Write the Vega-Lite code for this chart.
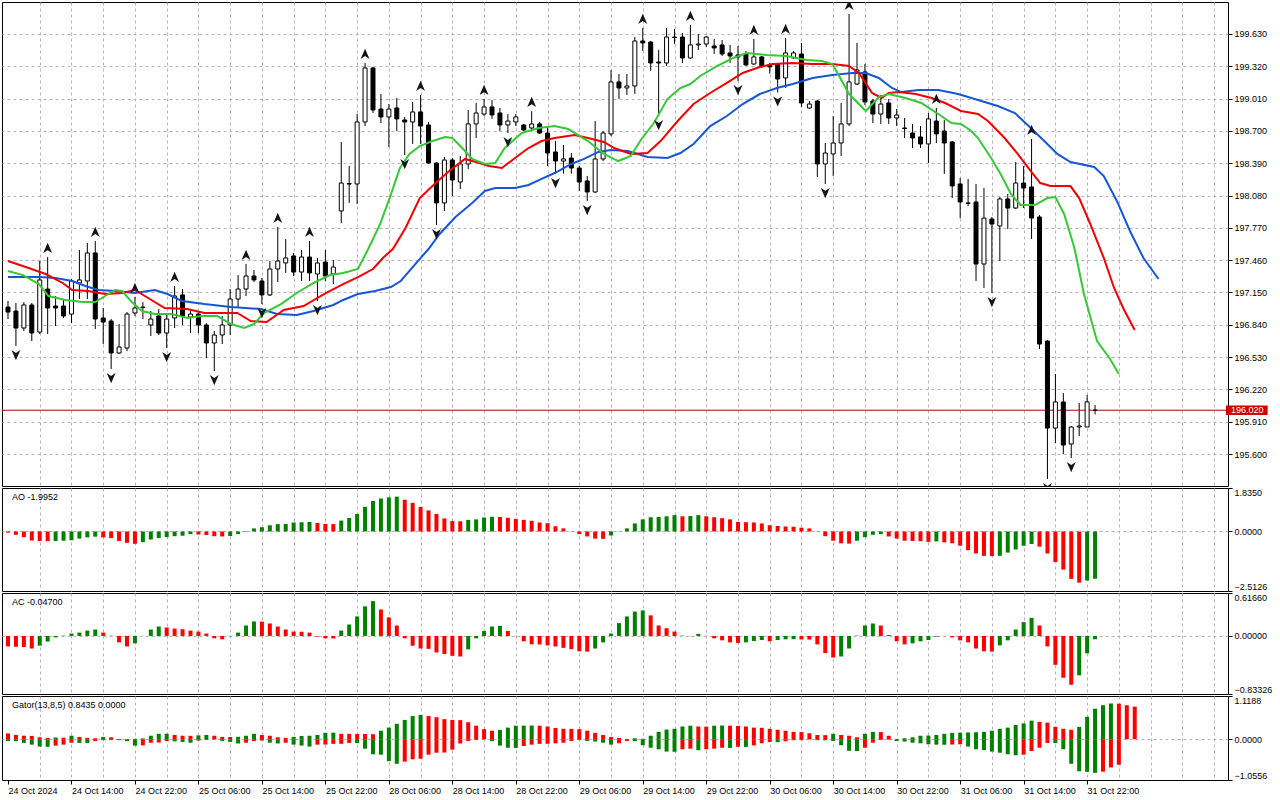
{
  "$schema": "https://vega.github.io/schema/vega-lite/v6.json",
  "background": "white",
  "padding": {"left": 1, "top": 1, "right": 0, "bottom": 0},
  "bounds": "flush",
  "spacing": 2,
  "config": {
    "view": {"stroke": "black", "strokeWidth": 1},
    "font": "Liberation Sans",
    "axis": {"labelFont": "Liberation Sans", "labelFontSize": 9, "labelColor": "black", "tickColor": "black", "tickSize": 4, "gridColor": "#bcaebf", "gridDash": [3, 3], "domain": false},
    "text": {"font": "Liberation Sans", "fontSize": 9}
  },
  "datasets": {
    "candles": [
      {"i":0,"o":197.010,"h":197.068,"l":196.895,"c":196.962},
      {"i":1,"o":196.972,"h":197.049,"l":196.636,"c":196.809},
      {"i":2,"o":196.809,"h":197.058,"l":196.780,"c":197.030},
      {"i":3,"o":197.030,"h":197.049,"l":196.684,"c":196.761},
      {"i":4,"o":196.770,"h":197.452,"l":196.751,"c":197.270},
      {"i":5,"o":197.183,"h":197.490,"l":196.751,"c":197.001},
      {"i":6,"o":197.020,"h":197.116,"l":196.828,"c":197.001},
      {"i":7,"o":197.020,"h":197.087,"l":196.905,"c":196.924},
      {"i":8,"o":196.943,"h":197.279,"l":196.857,"c":197.260},
      {"i":9,"o":197.241,"h":197.557,"l":197.087,"c":197.270},
      {"i":10,"o":197.260,"h":197.625,"l":197.087,"c":197.529},
      {"i":11,"o":197.529,"h":197.644,"l":196.799,"c":196.895},
      {"i":12,"o":196.905,"h":197.001,"l":196.655,"c":196.866},
      {"i":13,"o":196.876,"h":196.895,"l":196.415,"c":196.569},
      {"i":14,"o":196.569,"h":196.847,"l":196.560,"c":196.627},
      {"i":15,"o":196.617,"h":196.962,"l":196.588,"c":196.943},
      {"i":16,"o":196.953,"h":197.107,"l":196.924,"c":197.001},
      {"i":17,"o":197.010,"h":197.058,"l":196.895,"c":197.005},
      {"i":18,"o":196.838,"h":196.972,"l":196.732,"c":196.895},
      {"i":19,"o":196.924,"h":196.991,"l":196.742,"c":196.761},
      {"i":20,"o":196.761,"h":196.953,"l":196.617,"c":196.895},
      {"i":21,"o":196.905,"h":197.212,"l":196.809,"c":197.116},
      {"i":22,"o":197.126,"h":197.183,"l":196.838,"c":196.924},
      {"i":23,"o":196.914,"h":196.991,"l":196.761,"c":196.943},
      {"i":24,"o":196.943,"h":196.962,"l":196.761,"c":196.838},
      {"i":25,"o":196.838,"h":196.857,"l":196.521,"c":196.665},
      {"i":26,"o":196.665,"h":196.780,"l":196.396,"c":196.742},
      {"i":27,"o":196.742,"h":196.924,"l":196.655,"c":196.838},
      {"i":28,"o":196.838,"h":197.183,"l":196.742,"c":197.087},
      {"i":29,"o":197.087,"h":197.318,"l":197.001,"c":197.183},
      {"i":30,"o":197.183,"h":197.423,"l":197.116,"c":197.308},
      {"i":31,"o":197.308,"h":197.365,"l":197.250,"c":197.270},
      {"i":32,"o":197.260,"h":197.289,"l":197.039,"c":197.126},
      {"i":33,"o":197.126,"h":197.452,"l":197.116,"c":197.375},
      {"i":34,"o":197.375,"h":197.778,"l":197.250,"c":197.452},
      {"i":35,"o":197.433,"h":197.663,"l":197.337,"c":197.481},
      {"i":36,"o":197.500,"h":197.529,"l":197.308,"c":197.346},
      {"i":37,"o":197.346,"h":197.557,"l":197.260,"c":197.490},
      {"i":38,"o":197.490,"h":197.644,"l":197.260,"c":197.337},
      {"i":39,"o":197.327,"h":197.481,"l":197.068,"c":197.433},
      {"i":40,"o":197.442,"h":197.557,"l":197.260,"c":197.308},
      {"i":41,"o":197.327,"h":197.461,"l":197.231,"c":197.394},
      {"i":42,"o":197.932,"h":198.594,"l":197.816,"c":198.200},
      {"i":43,"o":198.195,"h":198.364,"l":198.009,"c":198.190},
      {"i":44,"o":198.191,"h":198.862,"l":197.999,"c":198.786},
      {"i":45,"o":198.786,"h":199.352,"l":198.747,"c":199.304},
      {"i":46,"o":199.304,"h":199.314,"l":198.872,"c":198.901},
      {"i":47,"o":198.910,"h":199.055,"l":198.776,"c":198.834},
      {"i":48,"o":198.834,"h":198.958,"l":198.546,"c":198.910},
      {"i":49,"o":198.920,"h":199.016,"l":198.699,"c":198.815},
      {"i":50,"o":198.805,"h":198.834,"l":198.469,"c":198.786},
      {"i":51,"o":198.786,"h":198.978,"l":198.575,"c":198.882},
      {"i":52,"o":198.882,"h":199.045,"l":198.575,"c":198.747},
      {"i":53,"o":198.757,"h":198.786,"l":198.383,"c":198.392},
      {"i":54,"o":198.392,"h":198.402,"l":197.797,"c":198.009},
      {"i":55,"o":198.009,"h":198.450,"l":197.932,"c":198.421},
      {"i":56,"o":198.421,"h":198.440,"l":198.076,"c":198.229},
      {"i":57,"o":198.210,"h":198.460,"l":198.143,"c":198.383},
      {"i":58,"o":198.383,"h":198.901,"l":198.335,"c":198.767},
      {"i":59,"o":198.767,"h":198.968,"l":198.632,"c":198.872},
      {"i":60,"o":198.862,"h":199.006,"l":198.843,"c":198.930},
      {"i":61,"o":198.930,"h":198.997,"l":198.815,"c":198.853},
      {"i":62,"o":198.872,"h":198.920,"l":198.699,"c":198.757},
      {"i":63,"o":198.757,"h":198.862,"l":198.680,"c":198.795},
      {"i":64,"o":198.786,"h":198.862,"l":198.747,"c":198.834},
      {"i":65,"o":198.757,"h":198.767,"l":198.699,"c":198.709},
      {"i":66,"o":198.728,"h":198.890,"l":198.709,"c":198.767},
      {"i":67,"o":198.767,"h":198.786,"l":198.670,"c":198.680},
      {"i":68,"o":198.680,"h":198.747,"l":198.364,"c":198.488},
      {"i":69,"o":198.498,"h":198.604,"l":198.287,"c":198.411},
      {"i":70,"o":198.411,"h":198.565,"l":198.290,"c":198.431},
      {"i":71,"o":198.440,"h":198.488,"l":198.290,"c":198.344},
      {"i":72,"o":198.344,"h":198.364,"l":198.124,"c":198.210},
      {"i":73,"o":198.220,"h":198.268,"l":198.028,"c":198.114},
      {"i":74,"o":198.114,"h":198.795,"l":198.104,"c":198.431},
      {"i":75,"o":198.431,"h":198.699,"l":198.411,"c":198.680},
      {"i":76,"o":198.671,"h":199.285,"l":198.651,"c":199.170},
      {"i":77,"o":199.170,"h":199.246,"l":199.006,"c":199.112},
      {"i":78,"o":199.112,"h":199.246,"l":199.045,"c":199.131},
      {"i":79,"o":199.131,"h":199.601,"l":199.055,"c":199.563},
      {"i":80,"o":199.563,"h":199.688,"l":199.467,"c":199.544},
      {"i":81,"o":199.553,"h":199.563,"l":199.275,"c":199.352},
      {"i":82,"o":199.361,"h":199.477,"l":198.843,"c":199.352},
      {"i":83,"o":199.352,"h":199.688,"l":199.323,"c":199.601},
      {"i":84,"o":199.601,"h":199.678,"l":199.534,"c":199.596},
      {"i":85,"o":199.601,"h":199.640,"l":199.352,"c":199.400},
      {"i":86,"o":199.400,"h":199.717,"l":199.390,"c":199.525},
      {"i":87,"o":199.525,"h":199.630,"l":199.477,"c":199.534},
      {"i":88,"o":199.534,"h":199.611,"l":199.505,"c":199.601},
      {"i":89,"o":199.515,"h":199.582,"l":199.438,"c":199.496},
      {"i":90,"o":199.525,"h":199.573,"l":199.419,"c":199.438},
      {"i":91,"o":199.448,"h":199.525,"l":199.352,"c":199.419},
      {"i":92,"o":199.429,"h":199.515,"l":199.179,"c":199.410},
      {"i":93,"o":199.438,"h":199.467,"l":199.323,"c":199.333},
      {"i":94,"o":199.342,"h":199.582,"l":199.333,"c":199.410},
      {"i":95,"o":199.410,"h":199.419,"l":199.304,"c":199.323},
      {"i":96,"o":199.333,"h":199.352,"l":199.250,"c":199.314},
      {"i":97,"o":199.342,"h":199.352,"l":199.070,"c":199.198},
      {"i":98,"o":199.208,"h":199.592,"l":199.112,"c":199.448},
      {"i":99,"o":199.400,"h":199.467,"l":199.390,"c":199.448},
      {"i":100,"o":199.438,"h":199.544,"l":198.930,"c":198.968},
      {"i":101,"o":198.920,"h":198.987,"l":198.910,"c":198.958},
      {"i":102,"o":198.987,"h":198.997,"l":198.258,"c":198.383},
      {"i":103,"o":198.383,"h":198.584,"l":198.191,"c":198.488},
      {"i":104,"o":198.479,"h":198.843,"l":198.268,"c":198.584},
      {"i":105,"o":198.584,"h":198.968,"l":198.460,"c":198.767},
      {"i":106,"o":198.767,"h":199.822,"l":198.747,"c":199.170},
      {"i":107,"o":199.150,"h":199.544,"l":199.141,"c":199.285},
      {"i":108,"o":199.266,"h":199.342,"l":198.949,"c":198.978},
      {"i":109,"o":198.987,"h":199.006,"l":198.776,"c":198.862},
      {"i":110,"o":198.862,"h":199.045,"l":198.767,"c":198.958},
      {"i":111,"o":198.968,"h":199.006,"l":198.767,"c":198.824},
      {"i":112,"o":198.824,"h":198.910,"l":198.747,"c":198.853},
      {"i":113,"o":198.728,"h":198.824,"l":198.632,"c":198.723},
      {"i":114,"o":198.680,"h":198.767,"l":198.536,"c":198.632},
      {"i":115,"o":198.642,"h":198.747,"l":198.536,"c":198.575},
      {"i":116,"o":198.575,"h":198.872,"l":198.392,"c":198.815},
      {"i":117,"o":198.795,"h":198.920,"l":198.584,"c":198.671},
      {"i":118,"o":198.699,"h":198.805,"l":198.287,"c":198.584},
      {"i":119,"o":198.594,"h":198.604,"l":198.057,"c":198.172},
      {"i":120,"o":198.191,"h":198.248,"l":197.864,"c":198.018},
      {"i":121,"o":198.009,"h":198.239,"l":197.980,"c":198.004},
      {"i":122,"o":198.018,"h":198.191,"l":197.260,"c":197.423},
      {"i":123,"o":197.423,"h":198.152,"l":197.193,"c":197.864},
      {"i":124,"o":197.855,"h":197.874,"l":197.145,"c":197.807},
      {"i":125,"o":197.788,"h":198.066,"l":197.452,"c":198.047},
      {"i":126,"o":198.047,"h":198.095,"l":197.759,"c":197.960},
      {"i":127,"o":197.960,"h":198.402,"l":197.951,"c":198.200},
      {"i":128,"o":198.200,"h":198.364,"l":197.960,"c":198.152},
      {"i":129,"o":198.162,"h":198.623,"l":197.663,"c":197.864},
      {"i":130,"o":197.874,"h":197.893,"l":196.607,"c":196.655},
      {"i":131,"o":196.684,"h":196.694,"l":195.360,"c":195.849},
      {"i":132,"o":195.849,"h":196.367,"l":195.705,"c":196.099},
      {"i":133,"o":196.099,"h":196.185,"l":195.600,"c":195.686},
      {"i":134,"o":195.696,"h":195.868,"l":195.561,"c":195.859},
      {"i":135,"o":195.859,"h":196.089,"l":195.772,"c":195.869},
      {"i":136,"o":195.859,"h":196.166,"l":195.859,"c":196.100},
      {"i":137,"o":196.020,"h":196.070,"l":195.980,"c":196.020}
    ],
    "jaw": [
      {"i":0,"p":197.298},{"i":4,"p":197.298},{"i":6,"p":197.289},{"i":8.1,"p":197.260},{"i":9.75,"p":197.212},{"i":11.4,"p":197.174},{"i":13.5,"p":197.164},{"i":16,"p":197.145},{"i":18.5,"p":197.174},{"i":20.1,"p":197.135},{"i":21.9,"p":197.068},{"i":24.75,"p":197.039},{"i":28.1,"p":197.011},{"i":31.9,"p":196.991},{"i":33.9,"p":196.943},{"i":36.4,"p":196.934},{"i":38.5,"p":196.972},{"i":41,"p":197.030},{"i":42.25,"p":197.078},{"i":44.1,"p":197.135},{"i":46.25,"p":197.164},{"i":48.25,"p":197.202},{"i":49.5,"p":197.260},{"i":51,"p":197.394},{"i":53,"p":197.567},{"i":54.4,"p":197.711},{"i":56.4,"p":197.874},{"i":58.5,"p":198.008},{"i":60.1,"p":198.124},{"i":61.4,"p":198.152},{"i":63.9,"p":198.152},{"i":65.6,"p":198.181},{"i":67.25,"p":198.239},{"i":68.9,"p":198.296},{"i":71,"p":198.383},{"i":72.6,"p":198.431},{"i":74.4,"p":198.498},{"i":76,"p":198.517},{"i":78.1,"p":198.507},{"i":80.6,"p":198.450},{"i":83.1,"p":198.440},{"i":84.75,"p":198.488},{"i":86.4,"p":198.575},{"i":88.5,"p":198.747},{"i":90.6,"p":198.843},{"i":92.6,"p":198.958},{"i":94.75,"p":199.054},{"i":96.9,"p":199.112},{"i":98.9,"p":199.150},{"i":101.4,"p":199.208},{"i":103.9,"p":199.237},{"i":106.4,"p":199.256},{"i":108.1,"p":199.256},{"i":109.75,"p":199.208},{"i":111.4,"p":199.112},{"i":112.6,"p":199.073},{"i":114.75,"p":199.093},{"i":117.25,"p":199.093},{"i":119.75,"p":199.054},{"i":122.25,"p":198.997},{"i":124.75,"p":198.939},{"i":126.9,"p":198.872},{"i":128.9,"p":198.728},{"i":130.6,"p":198.603},{"i":132.25,"p":198.479},{"i":133.9,"p":198.402},{"i":136.9,"p":198.354},{"i":138.1,"p":198.267},{"i":139.75,"p":198.028},{"i":141.4,"p":197.740},{"i":143.1,"p":197.481},{"i":145,"p":197.279}
    ],
    "teeth": [
      {"i":0,"p":197.452},{"i":2.6,"p":197.385},{"i":4.75,"p":197.327},{"i":6.9,"p":197.241},{"i":8.1,"p":197.174},{"i":10.1,"p":197.164},{"i":12.25,"p":197.135},{"i":14.4,"p":197.145},{"i":16,"p":197.174},{"i":17.25,"p":197.116},{"i":19.75,"p":197.001},{"i":22.6,"p":196.991},{"i":24.75,"p":196.953},{"i":28.9,"p":196.953},{"i":30.6,"p":196.876},{"i":32.6,"p":196.866},{"i":34.75,"p":196.982},{"i":37.25,"p":197.020},{"i":40.1,"p":197.145},{"i":42.25,"p":197.231},{"i":44.1,"p":197.298},{"i":46,"p":197.375},{"i":47.25,"p":197.481},{"i":48.5,"p":197.567},{"i":50.1,"p":197.769},{"i":51.9,"p":198.056},{"i":53.9,"p":198.200},{"i":55.6,"p":198.315},{"i":57.6,"p":198.431},{"i":59.4,"p":198.392},{"i":60.6,"p":198.363},{"i":62.25,"p":198.344},{"i":63.9,"p":198.440},{"i":65.6,"p":198.536},{"i":67.25,"p":198.603},{"i":68.9,"p":198.632},{"i":71.4,"p":198.661},{"i":73.1,"p":198.632},{"i":75.1,"p":198.594},{"i":76.4,"p":198.536},{"i":78.5,"p":198.479},{"i":80.6,"p":198.488},{"i":82.25,"p":198.603},{"i":84.4,"p":198.795},{"i":86.4,"p":198.958},{"i":88.5,"p":199.064},{"i":90.6,"p":199.160},{"i":92.6,"p":199.256},{"i":94.75,"p":199.313},{"i":96.4,"p":199.342},{"i":98.9,"p":199.352},{"i":101.4,"p":199.342},{"i":103.9,"p":199.342},{"i":106,"p":199.323},{"i":107.25,"p":199.256},{"i":108.9,"p":199.064},{"i":110.1,"p":199.016},{"i":111,"p":199.064},{"i":112.25,"p":199.073},{"i":114.4,"p":199.054},{"i":116.4,"p":199.016},{"i":118.1,"p":198.968},{"i":120.1,"p":198.891},{"i":122.25,"p":198.862},{"i":123.5,"p":198.795},{"i":125.6,"p":198.632},{"i":127.25,"p":198.479},{"i":128.9,"p":198.315},{"i":130.1,"p":198.200},{"i":131.4,"p":198.171},{"i":133.9,"p":198.171},{"i":135,"p":198.056},{"i":136.4,"p":197.807},{"i":138.1,"p":197.481},{"i":139.4,"p":197.193},{"i":140.6,"p":196.991},{"i":142,"p":196.790}
    ],
    "lips": [
      {"i":0,"p":197.356},{"i":1.9,"p":197.317},{"i":3.9,"p":197.231},{"i":5.1,"p":197.116},{"i":7.25,"p":197.078},{"i":9.4,"p":197.058},{"i":11,"p":197.058},{"i":12.25,"p":197.116},{"i":13.5,"p":197.174},{"i":14.4,"p":197.164},{"i":15.6,"p":197.058},{"i":16.9,"p":196.972},{"i":18.5,"p":196.943},{"i":20.6,"p":196.943},{"i":22.6,"p":196.905},{"i":24.4,"p":196.924},{"i":26.4,"p":196.924},{"i":28.1,"p":196.847},{"i":29.75,"p":196.809},{"i":31,"p":196.847},{"i":32.25,"p":196.953},{"i":34.4,"p":197.039},{"i":36.4,"p":197.145},{"i":38.5,"p":197.241},{"i":40.6,"p":197.317},{"i":42.25,"p":197.337},{"i":44.1,"p":197.375},{"i":45.4,"p":197.567},{"i":46.9,"p":197.807},{"i":48.1,"p":198.056},{"i":49.4,"p":198.344},{"i":50.6,"p":198.479},{"i":51.9,"p":198.555},{"i":53.5,"p":198.603},{"i":55.1,"p":198.642},{"i":56,"p":198.632},{"i":57.25,"p":198.536},{"i":58.5,"p":198.431},{"i":60.1,"p":198.383},{"i":61.4,"p":198.392},{"i":62.6,"p":198.536},{"i":64.75,"p":198.680},{"i":66.9,"p":198.728},{"i":68.9,"p":198.747},{"i":70.6,"p":198.718},{"i":73.1,"p":198.603},{"i":75.1,"p":198.479},{"i":76.9,"p":198.411},{"i":78.5,"p":198.459},{"i":79.75,"p":198.613},{"i":81.4,"p":198.776},{"i":83.1,"p":199.006},{"i":84.75,"p":199.112},{"i":86,"p":199.150},{"i":87.25,"p":199.227},{"i":89.4,"p":199.323},{"i":91.4,"p":199.400},{"i":93.1,"p":199.448},{"i":95.6,"p":199.428},{"i":98.1,"p":199.419},{"i":100.6,"p":199.380},{"i":102.6,"p":199.371},{"i":103.9,"p":199.342},{"i":104.75,"p":199.227},{"i":106,"p":199.054},{"i":108.1,"p":198.891},{"i":109.75,"p":199.025},{"i":111,"p":199.054},{"i":113.1,"p":199.016},{"i":115.1,"p":198.968},{"i":117.25,"p":198.862},{"i":118.9,"p":198.776},{"i":120.1,"p":198.766},{"i":121.4,"p":198.699},{"i":122.25,"p":198.632},{"i":123.9,"p":198.440},{"i":125.1,"p":198.287},{"i":126.4,"p":198.095},{"i":127.6,"p":197.989},{"i":129.4,"p":197.989},{"i":131,"p":198.056},{"i":132,"p":198.066},{"i":133.1,"p":197.903},{"i":134.4,"p":197.577},{"i":135.6,"p":197.135},{"i":137.25,"p":196.684},{"i":138.9,"p":196.512},{"i":140,"p":196.368}
    ],
    "fractals": [
      {"i":5,"p":197.490,"t":"up"},{"i":11,"p":197.644,"t":"up"},{"i":16,"p":197.107,"t":"up"},{"i":21,"p":197.212,"t":"up"},{"i":30,"p":197.423,"t":"up"},{"i":34,"p":197.778,"t":"up"},{"i":38,"p":197.644,"t":"up"},{"i":45,"p":199.352,"t":"up"},{"i":52,"p":199.045,"t":"up"},{"i":60,"p":199.006,"t":"up"},{"i":66,"p":198.890,"t":"up"},{"i":80,"p":199.688,"t":"up"},{"i":86,"p":199.717,"t":"up"},{"i":94,"p":199.582,"t":"up"},{"i":98,"p":199.592,"t":"up"},{"i":106,"p":199.822,"t":"up"},{"i":117,"p":198.920,"t":"up"},{"i":129,"p":198.623,"t":"up"},
      {"i":1,"p":196.636,"t":"down"},{"i":13,"p":196.415,"t":"down"},{"i":20,"p":196.617,"t":"down"},{"i":26,"p":196.396,"t":"down"},{"i":32,"p":197.039,"t":"down"},{"i":39,"p":197.068,"t":"down"},{"i":50,"p":198.469,"t":"down"},{"i":54,"p":197.797,"t":"down"},{"i":63,"p":198.680,"t":"down"},{"i":69,"p":198.287,"t":"down"},{"i":73,"p":198.028,"t":"down"},{"i":82,"p":198.843,"t":"down"},{"i":92,"p":199.179,"t":"down"},{"i":97,"p":199.070,"t":"down"},{"i":103,"p":198.191,"t":"down"},{"i":124,"p":197.145,"t":"down"},{"i":131,"p":195.360,"t":"down"},{"i":134,"p":195.561,"t":"down"}
    ],
    "ao": [
      {"i":0,"v":-0.05,"c":"d"},{"i":1,"v":-0.14,"c":"d"},{"i":2,"v":-0.24,"c":"d"},{"i":3,"v":-0.38,"c":"d"},{"i":4,"v":-0.40,"c":"d"},{"i":5,"v":-0.41,"c":"d"},{"i":6,"v":-0.40,"c":"u"},{"i":7,"v":-0.39,"c":"u"},{"i":8,"v":-0.37,"c":"u"},{"i":9,"v":-0.30,"c":"u"},{"i":10,"v":-0.25,"c":"u"},{"i":11,"v":-0.22,"c":"u"},{"i":12,"v":-0.25,"c":"d"},{"i":13,"v":-0.28,"c":"d"},{"i":14,"v":-0.40,"c":"d"},{"i":15,"v":-0.48,"c":"d"},{"i":16,"v":-0.52,"c":"d"},{"i":17,"v":-0.45,"c":"u"},{"i":18,"v":-0.34,"c":"u"},{"i":19,"v":-0.28,"c":"u"},{"i":20,"v":-0.24,"c":"u"},{"i":21,"v":-0.20,"c":"u"},{"i":22,"v":-0.18,"c":"u"},{"i":23,"v":-0.11,"c":"u"},{"i":24,"v":-0.13,"c":"d"},{"i":25,"v":-0.15,"c":"d"},{"i":26,"v":-0.20,"c":"d"},{"i":27,"v":-0.21,"c":"d"},{"i":28,"v":-0.19,"c":"u"},{"i":29,"v":-0.11,"c":"u"},{"i":30,"v":-0.02,"c":"u"},{"i":31,"v":0.13,"c":"u"},{"i":32,"v":0.18,"c":"u"},{"i":33,"v":0.26,"c":"u"},{"i":34,"v":0.31,"c":"u"},{"i":35,"v":0.32,"c":"u"},{"i":36,"v":0.38,"c":"u"},{"i":37,"v":0.39,"c":"u"},{"i":38,"v":0.40,"c":"u"},{"i":39,"v":0.36,"c":"d"},{"i":40,"v":0.32,"c":"d"},{"i":41,"v":0.31,"c":"d"},{"i":42,"v":0.46,"c":"u"},{"i":43,"v":0.57,"c":"u"},{"i":44,"v":0.74,"c":"u"},{"i":45,"v":1.04,"c":"u"},{"i":46,"v":1.29,"c":"u"},{"i":47,"v":1.39,"c":"u"},{"i":48,"v":1.44,"c":"u"},{"i":49,"v":1.47,"c":"u"},{"i":50,"v":1.34,"c":"d"},{"i":51,"v":1.21,"c":"d"},{"i":52,"v":1.04,"c":"d"},{"i":53,"v":0.89,"c":"d"},{"i":54,"v":0.74,"c":"d"},{"i":55,"v":0.55,"c":"d"},{"i":56,"v":0.44,"c":"d"},{"i":57,"v":0.43,"c":"d"},{"i":58,"v":0.49,"c":"u"},{"i":59,"v":0.51,"c":"u"},{"i":60,"v":0.59,"c":"u"},{"i":61,"v":0.62,"c":"u"},{"i":62,"v":0.61,"c":"d"},{"i":63,"v":0.58,"c":"d"},{"i":64,"v":0.53,"c":"d"},{"i":65,"v":0.49,"c":"d"},{"i":66,"v":0.45,"c":"d"},{"i":67,"v":0.38,"c":"d"},{"i":68,"v":0.35,"c":"d"},{"i":69,"v":0.22,"c":"d"},{"i":70,"v":0.13,"c":"d"},{"i":71,"v":-0.01,"c":"d"},{"i":72,"v":-0.11,"c":"d"},{"i":73,"v":-0.21,"c":"d"},{"i":74,"v":-0.30,"c":"d"},{"i":75,"v":-0.31,"c":"d"},{"i":76,"v":-0.17,"c":"u"},{"i":77,"v":-0.01,"c":"u"},{"i":78,"v":0.13,"c":"u"},{"i":79,"v":0.34,"c":"u"},{"i":80,"v":0.51,"c":"u"},{"i":81,"v":0.60,"c":"u"},{"i":82,"v":0.61,"c":"u"},{"i":83,"v":0.64,"c":"u"},{"i":84,"v":0.69,"c":"u"},{"i":85,"v":0.64,"c":"d"},{"i":86,"v":0.65,"c":"u"},{"i":87,"v":0.69,"c":"u"},{"i":88,"v":0.64,"c":"d"},{"i":89,"v":0.60,"c":"d"},{"i":90,"v":0.56,"c":"d"},{"i":91,"v":0.51,"c":"d"},{"i":92,"v":0.40,"c":"d"},{"i":93,"v":0.39,"c":"d"},{"i":94,"v":0.38,"c":"d"},{"i":95,"v":0.34,"c":"d"},{"i":96,"v":0.26,"c":"d"},{"i":97,"v":0.23,"c":"d"},{"i":98,"v":0.21,"c":"d"},{"i":99,"v":0.20,"c":"d"},{"i":100,"v":0.16,"c":"d"},{"i":101,"v":0.13,"c":"d"},{"i":102,"v":0.01,"c":"d"},{"i":103,"v":-0.20,"c":"d"},{"i":104,"v":-0.39,"c":"d"},{"i":105,"v":-0.50,"c":"d"},{"i":106,"v":-0.51,"c":"d"},{"i":107,"v":-0.39,"c":"u"},{"i":108,"v":-0.24,"c":"u"},{"i":109,"v":-0.14,"c":"u"},{"i":110,"v":-0.11,"c":"u"},{"i":111,"v":-0.21,"c":"d"},{"i":112,"v":-0.30,"c":"d"},{"i":113,"v":-0.39,"c":"d"},{"i":114,"v":-0.40,"c":"d"},{"i":115,"v":-0.41,"c":"d"},{"i":116,"v":-0.44,"c":"d"},{"i":117,"v":-0.42,"c":"u"},{"i":118,"v":-0.46,"c":"d"},{"i":119,"v":-0.50,"c":"d"},{"i":120,"v":-0.60,"c":"d"},{"i":121,"v":-0.79,"c":"d"},{"i":122,"v":-0.93,"c":"d"},{"i":123,"v":-1.03,"c":"d"},{"i":124,"v":-1.04,"c":"d"},{"i":125,"v":-1.03,"c":"u"},{"i":126,"v":-0.89,"c":"u"},{"i":127,"v":-0.76,"c":"u"},{"i":128,"v":-0.60,"c":"u"},{"i":129,"v":-0.53,"c":"u"},{"i":130,"v":-0.64,"c":"d"},{"i":131,"v":-0.93,"c":"d"},{"i":132,"v":-1.29,"c":"d"},{"i":133,"v":-1.61,"c":"d"},{"i":134,"v":-2.00,"c":"d"},{"i":135,"v":-2.16,"c":"d"},{"i":136,"v":-2.07,"c":"u"},{"i":137,"v":-1.9952,"c":"u"}
    ],
    "ac": [
      {"i":0,"v":-0.15,"c":"d"},{"i":1,"v":-0.155,"c":"d"},{"i":2,"v":-0.16,"c":"d"},{"i":3,"v":-0.18,"c":"d"},{"i":4,"v":-0.14,"c":"u"},{"i":5,"v":-0.08,"c":"u"},{"i":6,"v":-0.02,"c":"u"},{"i":7,"v":0.005,"c":"u"},{"i":8,"v":0.034,"c":"u"},{"i":9,"v":0.048,"c":"u"},{"i":10,"v":0.077,"c":"u"},{"i":11,"v":0.092,"c":"u"},{"i":12,"v":0.048,"c":"d"},{"i":13,"v":0.003,"c":"d"},{"i":14,"v":-0.092,"c":"d"},{"i":15,"v":-0.15,"c":"d"},{"i":16,"v":-0.106,"c":"u"},{"i":17,"v":0.002,"c":"u"},{"i":18,"v":0.092,"c":"u"},{"i":19,"v":0.135,"c":"u"},{"i":20,"v":0.121,"c":"d"},{"i":21,"v":0.106,"c":"d"},{"i":22,"v":0.097,"c":"d"},{"i":23,"v":0.077,"c":"d"},{"i":24,"v":0.063,"c":"d"},{"i":25,"v":0.034,"c":"d"},{"i":26,"v":-0.034,"c":"d"},{"i":27,"v":-0.048,"c":"d"},{"i":28,"v":-0.004,"c":"u"},{"i":29,"v":0.048,"c":"u"},{"i":30,"v":0.15,"c":"u"},{"i":31,"v":0.208,"c":"u"},{"i":32,"v":0.205,"c":"d"},{"i":33,"v":0.179,"c":"d"},{"i":34,"v":0.135,"c":"d"},{"i":35,"v":0.092,"c":"d"},{"i":36,"v":0.063,"c":"d"},{"i":37,"v":0.060,"c":"d"},{"i":38,"v":0.048,"c":"d"},{"i":39,"v":-0.01,"c":"d"},{"i":40,"v":-0.034,"c":"d"},{"i":41,"v":-0.036,"c":"d"},{"i":42,"v":0.077,"c":"u"},{"i":43,"v":0.164,"c":"u"},{"i":44,"v":0.28,"c":"u"},{"i":45,"v":0.425,"c":"u"},{"i":46,"v":0.50,"c":"u"},{"i":47,"v":0.38,"c":"d"},{"i":48,"v":0.266,"c":"d"},{"i":49,"v":0.15,"c":"d"},{"i":50,"v":-0.034,"c":"d"},{"i":51,"v":-0.14,"c":"d"},{"i":52,"v":-0.18,"c":"d"},{"i":53,"v":-0.185,"c":"d"},{"i":54,"v":-0.237,"c":"d"},{"i":55,"v":-0.26,"c":"d"},{"i":56,"v":-0.285,"c":"d"},{"i":57,"v":-0.295,"c":"d"},{"i":58,"v":-0.193,"c":"u"},{"i":59,"v":-0.034,"c":"u"},{"i":60,"v":0.072,"c":"u"},{"i":61,"v":0.135,"c":"u"},{"i":62,"v":0.145,"c":"u"},{"i":63,"v":0.072,"c":"d"},{"i":64,"v":-0.003,"c":"d"},{"i":65,"v":-0.077,"c":"d"},{"i":66,"v":-0.12,"c":"d"},{"i":67,"v":-0.122,"c":"d"},{"i":68,"v":-0.135,"c":"d"},{"i":69,"v":-0.15,"c":"d"},{"i":70,"v":-0.17,"c":"d"},{"i":71,"v":-0.19,"c":"d"},{"i":72,"v":-0.22,"c":"d"},{"i":73,"v":-0.225,"c":"d"},{"i":74,"v":-0.18,"c":"u"},{"i":75,"v":-0.092,"c":"u"},{"i":76,"v":0.034,"c":"u"},{"i":77,"v":0.184,"c":"u"},{"i":78,"v":0.28,"c":"u"},{"i":79,"v":0.35,"c":"u"},{"i":80,"v":0.367,"c":"u"},{"i":81,"v":0.295,"c":"d"},{"i":82,"v":0.15,"c":"d"},{"i":83,"v":0.111,"c":"d"},{"i":84,"v":0.063,"c":"d"},{"i":85,"v":0.005,"c":"d"},{"i":86,"v":-0.003,"c":"d"},{"i":87,"v":0.03,"c":"u"},{"i":88,"v":0.002,"c":"d"},{"i":89,"v":-0.034,"c":"d"},{"i":90,"v":-0.063,"c":"d"},{"i":91,"v":-0.092,"c":"d"},{"i":92,"v":-0.10,"c":"d"},{"i":93,"v":-0.092,"c":"u"},{"i":94,"v":-0.072,"c":"u"},{"i":95,"v":-0.058,"c":"u"},{"i":96,"v":-0.077,"c":"d"},{"i":97,"v":-0.058,"c":"u"},{"i":98,"v":-0.048,"c":"u"},{"i":99,"v":-0.046,"c":"u"},{"i":100,"v":-0.05,"c":"d"},{"i":101,"v":-0.052,"c":"d"},{"i":102,"v":-0.121,"c":"d"},{"i":103,"v":-0.246,"c":"d"},{"i":104,"v":-0.31,"c":"d"},{"i":105,"v":-0.295,"c":"u"},{"i":106,"v":-0.18,"c":"u"},{"i":107,"v":0.005,"c":"u"},{"i":108,"v":0.15,"c":"u"},{"i":109,"v":0.179,"c":"u"},{"i":110,"v":0.15,"c":"d"},{"i":111,"v":0.014,"c":"d"},{"i":112,"v":-0.077,"c":"d"},{"i":113,"v":-0.121,"c":"d"},{"i":114,"v":-0.106,"c":"u"},{"i":115,"v":-0.077,"c":"u"},{"i":116,"v":-0.058,"c":"u"},{"i":117,"v":-0.01,"c":"u"},{"i":118,"v":-0.002,"c":"u"},{"i":119,"v":-0.02,"c":"d"},{"i":120,"v":-0.063,"c":"d"},{"i":121,"v":-0.092,"c":"d"},{"i":122,"v":-0.18,"c":"d"},{"i":123,"v":-0.22,"c":"d"},{"i":124,"v":-0.225,"c":"d"},{"i":125,"v":-0.135,"c":"u"},{"i":126,"v":-0.063,"c":"u"},{"i":127,"v":0.092,"c":"u"},{"i":128,"v":0.198,"c":"u"},{"i":129,"v":0.26,"c":"u"},{"i":130,"v":0.15,"c":"d"},{"i":131,"v":-0.15,"c":"d"},{"i":132,"v":-0.415,"c":"d"},{"i":133,"v":-0.60,"c":"d"},{"i":134,"v":-0.70,"c":"d"},{"i":135,"v":-0.565,"c":"u"},{"i":136,"v":-0.25,"c":"u"},{"i":137,"v":-0.047,"c":"u"}
    ],
    "gator": [
      {"i":0,"v":0.15,"c":"d"},{"i":1,"v":0.11,"c":"d"},{"i":2,"v":0.09,"c":"d"},{"i":3,"v":0.085,"c":"d"},{"i":4,"v":0.05,"c":"d"},{"i":5,"v":0.035,"c":"d"},{"i":6,"v":0.045,"c":"u"},{"i":7,"v":0.04,"c":"d"},{"i":8,"v":0.09,"c":"u"},{"i":9,"v":0.06,"c":"d"},{"i":10,"v":0.035,"c":"d"},{"i":11,"v":0.025,"c":"d"},{"i":12,"v":0.06,"c":"u"},{"i":13,"v":0.05,"c":"d"},{"i":14,"v":0.006,"c":"d"},{"i":15,"v":0.004,"c":"d"},{"i":16,"v":0.01,"c":"u"},{"i":17,"v":0.02,"c":"u"},{"i":18,"v":0.09,"c":"u"},{"i":19,"v":0.14,"c":"u"},{"i":20,"v":0.142,"c":"u"},{"i":21,"v":0.11,"c":"d"},{"i":22,"v":0.09,"c":"d"},{"i":23,"v":0.088,"c":"d"},{"i":24,"v":0.10,"c":"u"},{"i":25,"v":0.11,"c":"u"},{"i":26,"v":0.09,"c":"d"},{"i":27,"v":0.06,"c":"d"},{"i":28,"v":0.058,"c":"d"},{"i":29,"v":0.062,"c":"u"},{"i":30,"v":0.09,"c":"u"},{"i":31,"v":0.14,"c":"u"},{"i":32,"v":0.11,"c":"d"},{"i":33,"v":0.09,"c":"d"},{"i":34,"v":0.05,"c":"d"},{"i":35,"v":0.035,"c":"d"},{"i":36,"v":0.06,"c":"u"},{"i":37,"v":0.085,"c":"u"},{"i":38,"v":0.09,"c":"u"},{"i":39,"v":0.11,"c":"u"},{"i":40,"v":0.165,"c":"u"},{"i":41,"v":0.17,"c":"u"},{"i":42,"v":0.14,"c":"d"},{"i":43,"v":0.138,"c":"d"},{"i":44,"v":0.136,"c":"d"},{"i":45,"v":0.135,"c":"d"},{"i":46,"v":0.13,"c":"d"},{"i":47,"v":0.22,"c":"u"},{"i":48,"v":0.30,"c":"u"},{"i":49,"v":0.40,"c":"u"},{"i":50,"v":0.50,"c":"u"},{"i":51,"v":0.60,"c":"u"},{"i":52,"v":0.63,"c":"u"},{"i":53,"v":0.60,"c":"d"},{"i":54,"v":0.57,"c":"d"},{"i":55,"v":0.52,"c":"d"},{"i":56,"v":0.50,"c":"d"},{"i":57,"v":0.495,"c":"d"},{"i":58,"v":0.44,"c":"d"},{"i":59,"v":0.35,"c":"d"},{"i":60,"v":0.26,"c":"d"},{"i":61,"v":0.22,"c":"d"},{"i":62,"v":0.24,"c":"u"},{"i":63,"v":0.30,"c":"u"},{"i":64,"v":0.35,"c":"u"},{"i":65,"v":0.352,"c":"u"},{"i":66,"v":0.354,"c":"u"},{"i":67,"v":0.35,"c":"d"},{"i":68,"v":0.33,"c":"d"},{"i":69,"v":0.29,"c":"d"},{"i":70,"v":0.27,"c":"d"},{"i":71,"v":0.268,"c":"d"},{"i":72,"v":0.26,"c":"d"},{"i":73,"v":0.22,"c":"d"},{"i":74,"v":0.165,"c":"d"},{"i":75,"v":0.11,"c":"d"},{"i":76,"v":0.06,"c":"d"},{"i":77,"v":0.035,"c":"d"},{"i":78,"v":0.004,"c":"d"},{"i":79,"v":0.025,"c":"u"},{"i":80,"v":0.01,"c":"d"},{"i":81,"v":0.09,"c":"u"},{"i":82,"v":0.19,"c":"u"},{"i":83,"v":0.25,"c":"u"},{"i":84,"v":0.27,"c":"u"},{"i":85,"v":0.33,"c":"u"},{"i":86,"v":0.35,"c":"u"},{"i":87,"v":0.33,"c":"d"},{"i":88,"v":0.325,"c":"d"},{"i":89,"v":0.35,"c":"u"},{"i":90,"v":0.355,"c":"u"},{"i":91,"v":0.35,"c":"d"},{"i":92,"v":0.345,"c":"d"},{"i":93,"v":0.33,"c":"d"},{"i":94,"v":0.30,"c":"d"},{"i":95,"v":0.295,"c":"d"},{"i":96,"v":0.27,"c":"d"},{"i":97,"v":0.245,"c":"d"},{"i":98,"v":0.22,"c":"d"},{"i":99,"v":0.19,"c":"d"},{"i":100,"v":0.185,"c":"d"},{"i":101,"v":0.155,"c":"d"},{"i":102,"v":0.11,"c":"d"},{"i":103,"v":0.105,"c":"d"},{"i":104,"v":0.14,"c":"u"},{"i":105,"v":0.11,"c":"d"},{"i":106,"v":0.09,"c":"d"},{"i":107,"v":0.05,"c":"d"},{"i":108,"v":0.14,"c":"u"},{"i":109,"v":0.19,"c":"u"},{"i":110,"v":0.185,"c":"d"},{"i":111,"v":0.09,"c":"d"},{"i":112,"v":0.005,"c":"d"},{"i":113,"v":0.025,"c":"u"},{"i":114,"v":0.05,"c":"u"},{"i":115,"v":0.09,"c":"u"},{"i":116,"v":0.095,"c":"u"},{"i":117,"v":0.11,"c":"u"},{"i":118,"v":0.14,"c":"u"},{"i":119,"v":0.165,"c":"u"},{"i":120,"v":0.17,"c":"u"},{"i":121,"v":0.175,"c":"u"},{"i":122,"v":0.18,"c":"u"},{"i":123,"v":0.19,"c":"u"},{"i":124,"v":0.22,"c":"u"},{"i":125,"v":0.27,"c":"u"},{"i":126,"v":0.30,"c":"u"},{"i":127,"v":0.37,"c":"u"},{"i":128,"v":0.41,"c":"u"},{"i":129,"v":0.48,"c":"u"},{"i":130,"v":0.45,"c":"d"},{"i":131,"v":0.43,"c":"d"},{"i":132,"v":0.32,"c":"d"},{"i":133,"v":0.27,"c":"d"},{"i":134,"v":0.245,"c":"d"},{"i":135,"v":0.32,"c":"u"},{"i":136,"v":0.58,"c":"u"},{"i":137,"v":0.79,"c":"u"},{"i":138,"v":0.88,"c":"u"},{"i":139,"v":0.925,"c":"u"},{"i":140,"v":0.92,"c":"d"},{"i":141,"v":0.88,"c":"d"},{"i":142,"v":0.8435,"c":"d"},
      {"i":0,"v":-0.045,"c":"u"},{"i":1,"v":-0.05,"c":"u"},{"i":2,"v":-0.095,"c":"u"},{"i":3,"v":-0.14,"c":"u"},{"i":4,"v":-0.19,"c":"u"},{"i":5,"v":-0.195,"c":"u"},{"i":6,"v":-0.165,"c":"d"},{"i":7,"v":-0.14,"c":"d"},{"i":8,"v":-0.09,"c":"d"},{"i":9,"v":-0.095,"c":"u"},{"i":10,"v":-0.10,"c":"u"},{"i":11,"v":-0.05,"c":"d"},{"i":12,"v":-0.025,"c":"d"},{"i":13,"v":-0.024,"c":"d"},{"i":14,"v":-0.023,"c":"d"},{"i":15,"v":-0.05,"c":"u"},{"i":16,"v":-0.165,"c":"u"},{"i":17,"v":-0.16,"c":"d"},{"i":18,"v":-0.09,"c":"d"},{"i":19,"v":-0.085,"c":"d"},{"i":20,"v":-0.045,"c":"d"},{"i":21,"v":-0.055,"c":"u"},{"i":22,"v":-0.07,"c":"u"},{"i":23,"v":-0.09,"c":"u"},{"i":24,"v":-0.035,"c":"d"},{"i":25,"v":-0.02,"c":"d"},{"i":26,"v":-0.01,"c":"d"},{"i":27,"v":-0.045,"c":"u"},{"i":28,"v":-0.07,"c":"u"},{"i":29,"v":-0.11,"c":"u"},{"i":30,"v":-0.09,"c":"d"},{"i":31,"v":-0.045,"c":"d"},{"i":32,"v":-0.035,"c":"d"},{"i":33,"v":-0.09,"c":"u"},{"i":34,"v":-0.11,"c":"u"},{"i":35,"v":-0.09,"c":"d"},{"i":36,"v":-0.14,"c":"u"},{"i":37,"v":-0.165,"c":"u"},{"i":38,"v":-0.19,"c":"u"},{"i":39,"v":-0.14,"c":"d"},{"i":40,"v":-0.138,"c":"d"},{"i":41,"v":-0.12,"c":"d"},{"i":42,"v":-0.118,"c":"d"},{"i":43,"v":-0.095,"c":"d"},{"i":44,"v":-0.10,"c":"u"},{"i":45,"v":-0.245,"c":"u"},{"i":46,"v":-0.39,"c":"u"},{"i":47,"v":-0.40,"c":"u"},{"i":48,"v":-0.565,"c":"u"},{"i":49,"v":-0.635,"c":"u"},{"i":50,"v":-0.58,"c":"d"},{"i":51,"v":-0.52,"c":"d"},{"i":52,"v":-0.505,"c":"d"},{"i":53,"v":-0.40,"c":"d"},{"i":54,"v":-0.35,"c":"d"},{"i":55,"v":-0.345,"c":"d"},{"i":56,"v":-0.27,"c":"d"},{"i":57,"v":-0.11,"c":"d"},{"i":58,"v":-0.045,"c":"d"},{"i":59,"v":-0.02,"c":"d"},{"i":60,"v":-0.005,"c":"d"},{"i":61,"v":-0.05,"c":"u"},{"i":62,"v":-0.165,"c":"u"},{"i":63,"v":-0.22,"c":"u"},{"i":64,"v":-0.225,"c":"u"},{"i":65,"v":-0.175,"c":"d"},{"i":66,"v":-0.14,"c":"d"},{"i":67,"v":-0.12,"c":"d"},{"i":68,"v":-0.118,"c":"d"},{"i":69,"v":-0.105,"c":"d"},{"i":70,"v":-0.09,"c":"d"},{"i":71,"v":-0.045,"c":"d"},{"i":72,"v":-0.02,"c":"d"},{"i":73,"v":-0.045,"c":"u"},{"i":74,"v":-0.06,"c":"u"},{"i":75,"v":-0.09,"c":"u"},{"i":76,"v":-0.14,"c":"u"},{"i":77,"v":-0.105,"c":"d"},{"i":78,"v":-0.045,"c":"d"},{"i":79,"v":-0.05,"c":"u"},{"i":80,"v":-0.155,"c":"u"},{"i":81,"v":-0.22,"c":"u"},{"i":82,"v":-0.26,"c":"u"},{"i":83,"v":-0.32,"c":"u"},{"i":84,"v":-0.325,"c":"u"},{"i":85,"v":-0.26,"c":"d"},{"i":86,"v":-0.245,"c":"d"},{"i":87,"v":-0.285,"c":"u"},{"i":88,"v":-0.26,"c":"d"},{"i":89,"v":-0.245,"c":"d"},{"i":90,"v":-0.22,"c":"d"},{"i":91,"v":-0.225,"c":"u"},{"i":92,"v":-0.195,"c":"d"},{"i":93,"v":-0.20,"c":"u"},{"i":94,"v":-0.16,"c":"d"},{"i":95,"v":-0.105,"c":"d"},{"i":96,"v":-0.07,"c":"d"},{"i":97,"v":-0.075,"c":"u"},{"i":98,"v":-0.055,"c":"d"},{"i":99,"v":-0.025,"c":"d"},{"i":100,"v":-0.024,"c":"d"},{"i":101,"v":-0.005,"c":"d"},{"i":102,"v":-0.025,"c":"u"},{"i":103,"v":-0.028,"c":"u"},{"i":104,"v":-0.045,"c":"u"},{"i":105,"v":-0.155,"c":"u"},{"i":106,"v":-0.30,"c":"u"},{"i":107,"v":-0.305,"c":"u"},{"i":108,"v":-0.22,"c":"d"},{"i":109,"v":-0.09,"c":"d"},{"i":110,"v":-0.02,"c":"d"},{"i":111,"v":-0.01,"c":"d"},{"i":112,"v":-0.045,"c":"u"},{"i":113,"v":-0.06,"c":"u"},{"i":114,"v":-0.09,"c":"u"},{"i":115,"v":-0.105,"c":"u"},{"i":116,"v":-0.13,"c":"u"},{"i":117,"v":-0.14,"c":"u"},{"i":118,"v":-0.142,"c":"u"},{"i":119,"v":-0.138,"c":"d"},{"i":120,"v":-0.13,"c":"d"},{"i":121,"v":-0.19,"c":"u"},{"i":122,"v":-0.26,"c":"u"},{"i":123,"v":-0.28,"c":"u"},{"i":124,"v":-0.32,"c":"u"},{"i":125,"v":-0.35,"c":"u"},{"i":126,"v":-0.39,"c":"u"},{"i":127,"v":-0.415,"c":"u"},{"i":128,"v":-0.40,"c":"d"},{"i":129,"v":-0.305,"c":"d"},{"i":130,"v":-0.22,"c":"d"},{"i":131,"v":-0.095,"c":"d"},{"i":132,"v":-0.10,"c":"u"},{"i":133,"v":-0.26,"c":"u"},{"i":134,"v":-0.635,"c":"u"},{"i":135,"v":-0.83,"c":"u"},{"i":136,"v":-0.845,"c":"u"},{"i":137,"v":-0.87,"c":"u"},{"i":138,"v":-0.84,"c":"d"},{"i":139,"v":-0.73,"c":"d"},{"i":140,"v":-0.66,"c":"d"}
    ]
  },
  "vconcat": [
    {
      "width": 1226,
      "height": 484,
      "layer": [
        {
          "data": {"name": "candles"},
          "mark": {"type": "rule", "color": "black", "strokeWidth": 1},
          "encoding": {
            "x": {"field": "i", "type": "quantitative", "scale": {"domain": [-0.125, 153.125], "nice": false, "zero": false},
              "axis": {"values": [4,8,12,16,20,24,28,32,36,40,44,48,52,56,60,64,68,72,76,80,84,88,92,96,100,104,108,112,116,120,124,128,132,136,140,144,148,152], "tickCount": 100, "grid": true, "labels": false, "ticks": false, "domain": false, "title": null}},
            "y": {"field": "l", "type": "quantitative", "scale": {"domain": [195.293, 199.937], "nice": false, "zero": false},
              "axis": {"orient": "right", "values": [195.6, 195.91, 196.22, 196.53, 196.84, 197.15, 197.46, 197.77, 198.08, 198.39, 198.7, 199.01, 199.32, 199.63], "tickCount": 50, "format": ".3f", "grid": true, "ticks": true, "tickSize": 4, "labelPadding": 2, "labelOverlap": false, "labelBound": false, "domain": false, "title": null}},
            "y2": {"field": "h"}
          }
        },
        {
          "data": {"values": [{"p": 196.02}]},
          "mark": {"type": "rule", "color": "#b00000", "strokeWidth": 1},
          "encoding": {
            "y": {"field": "p", "type": "quantitative", "scale": {"domain": [195.293, 199.937], "nice": false, "zero": false}}
          }
        },
        {
          "data": {"name": "candles"},
          "mark": {"type": "bar", "width": 4, "stroke": "black", "strokeWidth": 1},
          "encoding": {
            "x": {"field": "i", "type": "quantitative", "scale": {"domain": [-0.125, 153.125], "nice": false, "zero": false}},
            "y": {"field": "o", "type": "quantitative", "scale": {"domain": [195.293, 199.937], "nice": false, "zero": false}},
            "y2": {"field": "c"},
            "fill": {"condition": {"test": "datum.c > datum.o", "value": "white"}, "value": "black"}
          }
        },
        {
          "data": {"name": "jaw"},
          "mark": {"type": "line", "color": "#1656d6", "strokeWidth": 2},
          "encoding": {
            "x": {"field": "i", "type": "quantitative", "scale": {"domain": [-0.125, 153.125], "nice": false, "zero": false}},
            "y": {"field": "p", "type": "quantitative", "scale": {"domain": [195.293, 199.937], "nice": false, "zero": false}}
          }
        },
        {
          "data": {"name": "teeth"},
          "mark": {"type": "line", "color": "#f00000", "strokeWidth": 2},
          "encoding": {
            "x": {"field": "i", "type": "quantitative", "scale": {"domain": [-0.125, 153.125], "nice": false, "zero": false}},
            "y": {"field": "p", "type": "quantitative", "scale": {"domain": [195.293, 199.937], "nice": false, "zero": false}}
          }
        },
        {
          "data": {"name": "lips"},
          "mark": {"type": "line", "color": "#36c836", "strokeWidth": 2},
          "encoding": {
            "x": {"field": "i", "type": "quantitative", "scale": {"domain": [-0.125, 153.125], "nice": false, "zero": false}},
            "y": {"field": "p", "type": "quantitative", "scale": {"domain": [195.293, 199.937], "nice": false, "zero": false}}
          }
        },
        {
          "data": {"name": "fractals"},
          "transform": [{"filter": "datum.t == 'up'"}],
          "mark": {"type": "point", "shape": "M0,-1L0.85,0.95L0,0.4L-0.85,0.95Z", "filled": true, "size": 110, "color": "#14141e", "opacity": 1, "yOffset": -9, "clip": true},
          "encoding": {
            "x": {"field": "i", "type": "quantitative", "scale": {"domain": [-0.125, 153.125], "nice": false, "zero": false}},
            "y": {"field": "p", "type": "quantitative", "scale": {"domain": [195.293, 199.937], "nice": false, "zero": false}}
          }
        },
        {
          "data": {"name": "fractals"},
          "transform": [{"filter": "datum.t == 'down'"}],
          "mark": {"type": "point", "shape": "M0,1L0.85,-0.95L0,-0.4L-0.85,-0.95Z", "filled": true, "size": 110, "color": "#14141e", "opacity": 1, "yOffset": 9, "clip": true},
          "encoding": {
            "x": {"field": "i", "type": "quantitative", "scale": {"domain": [-0.125, 153.125], "nice": false, "zero": false}},
            "y": {"field": "p", "type": "quantitative", "scale": {"domain": [195.293, 199.937], "nice": false, "zero": false}}
          }
        },
        {
          "data": {"values": [{"p": 196.02, "label": "196.020"}]},
          "mark": {"type": "rect", "color": "#d00000"},
          "encoding": {
            "x": {"datum": 153.5, "type": "quantitative", "scale": {"domain": [-0.125, 153.125], "nice": false, "zero": false}},
            "x2": {"datum": 158.75},
            "y": {"datum": 196.066, "type": "quantitative", "scale": {"domain": [195.293, 199.937], "nice": false, "zero": false}},
            "y2": {"datum": 195.974}
          }
        },
        {
          "data": {"values": [{"p": 196.02, "label": "196.020"}]},
          "mark": {"type": "text", "align": "left", "baseline": "middle", "color": "white", "fontSize": 9, "dx": 5},
          "encoding": {
            "x": {"datum": 153.5, "type": "quantitative", "scale": {"domain": [-0.125, 153.125], "nice": false, "zero": false}},
            "y": {"field": "p", "type": "quantitative", "scale": {"domain": [195.293, 199.937], "nice": false, "zero": false}},
            "text": {"field": "label"}
          }
        }
      ]
    },
    {
      "width": 1226,
      "height": 103,
      "layer": [
        {
          "data": {"name": "ao"},
          "mark": {"type": "bar", "width": 4},
          "encoding": {
            "x": {"field": "i", "type": "quantitative", "scale": {"domain": [-0.125, 153.125], "nice": false, "zero": false},
              "axis": {"values": [4,8,12,16,20,24,28,32,36,40,44,48,52,56,60,64,68,72,76,80,84,88,92,96,100,104,108,112,116,120,124,128,132,136,140,144,148,152], "tickCount": 100, "grid": true, "labels": false, "ticks": false, "domain": false, "title": null}},
            "y": {"field": "v", "type": "quantitative", "scale": {"domain": [-2.5126, 1.835], "nice": false, "zero": false},
              "axis": {"orient": "right", "values": [1.835, 0, -2.5126], "tickCount": 10, "format": ".4f", "labelFlush": true, "labelOverlap": false, "grid": true, "gridOpacity": {"condition": {"test": "datum.value == 0", "value": 1}, "value": 0}, "tickSize": 4, "labelPadding": 2, "domain": false, "title": null}},
            "y2": {"datum": 0},
            "color": {"field": "c", "type": "nominal", "scale": {"domain": ["u", "d"], "range": ["#008000", "#ff0000"]}, "legend": null}
          }
        },
        {
          "data": {"values": [{"label": "AO -1.9952"}]},
          "mark": {"type": "text", "align": "left", "baseline": "alphabetic", "dx": 5, "dy": 12, "fontSize": 9, "color": "black"},
          "encoding": {
            "x": {"datum": -0.125, "type": "quantitative", "scale": {"domain": [-0.125, 153.125], "nice": false, "zero": false}},
            "y": {"datum": 1.835, "type": "quantitative", "scale": {"domain": [-2.5126, 1.835], "nice": false, "zero": false}},
            "text": {"field": "label"}
          }
        }
      ]
    },
    {
      "width": 1226,
      "height": 101,
      "layer": [
        {
          "data": {"name": "ac"},
          "mark": {"type": "bar", "width": 4},
          "encoding": {
            "x": {"field": "i", "type": "quantitative", "scale": {"domain": [-0.125, 153.125], "nice": false, "zero": false},
              "axis": {"values": [4,8,12,16,20,24,28,32,36,40,44,48,52,56,60,64,68,72,76,80,84,88,92,96,100,104,108,112,116,120,124,128,132,136,140,144,148,152], "tickCount": 100, "grid": true, "labels": false, "ticks": false, "domain": false, "title": null}},
            "y": {"field": "v", "type": "quantitative", "scale": {"domain": [-0.83326, 0.6166], "nice": false, "zero": false},
              "axis": {"orient": "right", "values": [0.6166, 0, -0.83326], "tickCount": 10, "format": ".5f", "labelFlush": true, "labelOverlap": false, "grid": true, "gridOpacity": {"condition": {"test": "datum.value == 0", "value": 1}, "value": 0}, "tickSize": 4, "labelPadding": 2, "domain": false, "title": null}},
            "y2": {"datum": 0},
            "color": {"field": "c", "type": "nominal", "scale": {"domain": ["u", "d"], "range": ["#008000", "#ff0000"]}, "legend": null}
          }
        },
        {
          "data": {"values": [{"label": "AC -0.04700"}]},
          "mark": {"type": "text", "align": "left", "baseline": "alphabetic", "dx": 5, "dy": 12, "fontSize": 9, "color": "black"},
          "encoding": {
            "x": {"datum": -0.125, "type": "quantitative", "scale": {"domain": [-0.125, 153.125], "nice": false, "zero": false}},
            "y": {"datum": 0.6166, "type": "quantitative", "scale": {"domain": [-0.83326, 0.6166], "nice": false, "zero": false}},
            "text": {"field": "label"}
          }
        }
      ]
    },
    {
      "width": 1226,
      "height": 84,
      "layer": [
        {
          "data": {"name": "gator"},
          "mark": {"type": "bar", "width": 4},
          "encoding": {
            "x": {"field": "i", "type": "quantitative", "scale": {"domain": [-0.125, 153.125], "nice": false, "zero": false},
              "axis": {"values": [0,4,8,12,16,20,24,28,32,36,40,44,48,52,56,60,64,68,72,76,80,84,88,92,96,100,104,108,112,116,120,124,128,132,136,140,144,148,152], "tickCount": 100, "grid": true,
                "gridOpacity": {"condition": {"test": "datum.value > 0", "value": 1}, "value": 0},
                "ticks": true, "tickSize": 4,
                "tickOpacity": {"condition": {"test": "datum.value % 8 == 0 && datum.value <= 136", "value": 1}, "value": 0},
                "labelExpr": "datum.value % 8 == 0 && datum.value <= 136 ? ['24 Oct 2024','24 Oct 14:00','24 Oct 22:00','25 Oct 06:00','25 Oct 14:00','25 Oct 22:00','28 Oct 06:00','28 Oct 14:00','28 Oct 22:00','29 Oct 06:00','29 Oct 14:00','29 Oct 22:00','30 Oct 06:00','30 Oct 14:00','30 Oct 22:00','31 Oct 06:00','31 Oct 14:00','31 Oct 22:00'][datum.value / 8] : ''",
                "labelAlign": "left", "labelPadding": 2, "labelOverlap": false, "labelBound": false, "labelFlush": false, "domain": false, "title": null}},
            "y": {"field": "v", "type": "quantitative", "scale": {"domain": [-1.0556, 1.1188], "nice": false, "zero": false},
              "axis": {"orient": "right", "values": [1.1188, 0, -1.0556], "tickCount": 10, "format": ".4f", "labelFlush": true, "labelOverlap": false, "grid": true, "gridOpacity": {"condition": {"test": "datum.value == 0", "value": 1}, "value": 0}, "tickSize": 4, "labelPadding": 2, "domain": false, "title": null}},
            "y2": {"datum": 0},
            "color": {"field": "c", "type": "nominal", "scale": {"domain": ["u", "d"], "range": ["#008000", "#ff0000"]}, "legend": null}
          }
        },
        {
          "data": {"values": [{"label": "Gator(13,8,5) 0.8435 0.0000"}]},
          "mark": {"type": "text", "align": "left", "baseline": "alphabetic", "dx": 5, "dy": 12, "fontSize": 9, "color": "black"},
          "encoding": {
            "x": {"datum": -0.125, "type": "quantitative", "scale": {"domain": [-0.125, 153.125], "nice": false, "zero": false}},
            "y": {"datum": 1.1188, "type": "quantitative", "scale": {"domain": [-1.0556, 1.1188], "nice": false, "zero": false}},
            "text": {"field": "label"}
          }
        }
      ]
    }
  ]
}
